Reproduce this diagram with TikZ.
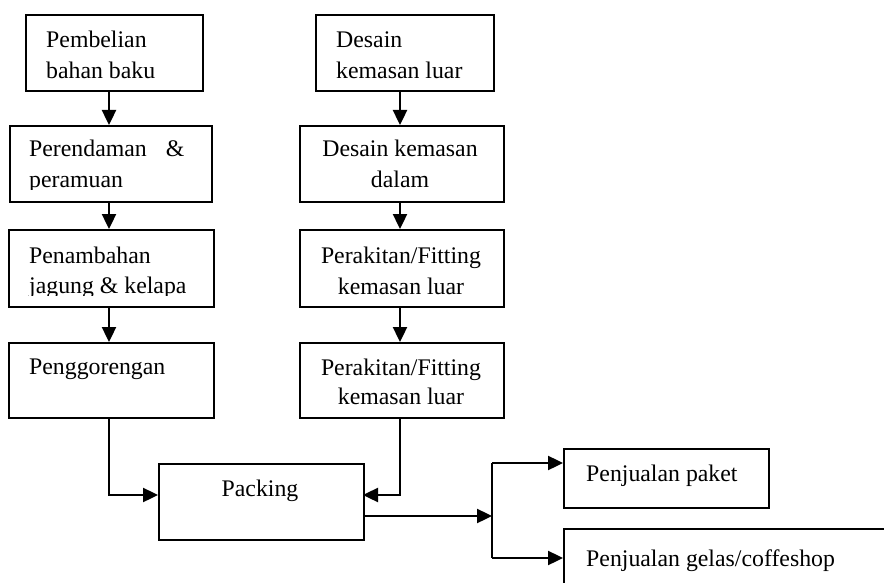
\documentclass[tikz,border=0pt]{standalone}
\usepackage{fontspec}
\setmainfont{Liberation Serif}
\usetikzlibrary{arrows.meta}
\tikzset{
  box/.style={draw=black, line width=1.7pt, inner sep=0pt},
  txt/.style={inner sep=0pt, font=\fontsize{23.8}{28}\selectfont},
  arr/.style={draw=black, line width=2.4pt, -{Triangle[length=15pt,width=14pt]}},
  ln/.style={draw=black, line width=2.4pt}
}
\newcommand{\boxat}[3]{}
\begin{document}
\begin{tikzpicture}[x=1pt,y=-1pt]
\clip (0,0) rectangle (884,583);
\fill[white] (0,0) rectangle (884,583);
% left column boxes
\node[box, anchor=north west, minimum width=177pt, minimum height=76pt] (L1) at (25,14) {};
\node[box, anchor=north west, minimum width=202pt, minimum height=76pt] (L2) at (9,125) {};
\node[box, anchor=north west, minimum width=205pt, minimum height=77pt] (L3) at (8,229) {};
\node[box, anchor=north west, minimum width=205pt, minimum height=75pt] (L4) at (8,342) {};
% right column boxes
\node[box, anchor=north west, minimum width=178pt, minimum height=76pt] (R1) at (315,14) {};
\node[box, anchor=north west, minimum width=204pt, minimum height=76pt] (R2) at (299,125) {};
\node[box, anchor=north west, minimum width=204pt, minimum height=77pt] (R3) at (299,229) {};
\node[box, anchor=north west, minimum width=204pt, minimum height=75pt] (R4) at (299,342) {};
% packing and sales
\node[box, anchor=north west, minimum width=205pt, minimum height=76pt] (P) at (158,463) {};
\node[box, anchor=north west, minimum width=205pt, minimum height=59pt] (S1) at (563,448) {};
\node[box, anchor=north west, minimum width=360pt, minimum height=100pt] (S2) at (563,528) {};

% texts
\node[txt, anchor=base west] (tL1a) at (46,48) {Pembelian};
\node[txt, anchor=base west] (tL1b) at (46,79) {bahan baku};
\node[txt, anchor=base west] (tL2a) at (29,157) {Perendaman\hspace{19pt}\&};
\begin{scope}
  \clip (0,160) rectangle (250,190);
  \node[txt, anchor=base west] (tL2b) at (29,188) {peramuan};
\end{scope}
\node[txt, anchor=base west] (tL3a) at (29,263) {Penambahan};
\begin{scope}
  \clip (0,266) rectangle (250,295);
  \node[txt, anchor=base west] (tL3b) at (29,293) {jagung \& kelapa};
\end{scope}
\node[txt, anchor=base west] (tL4) at (29,374) {Penggorengan};

\node[txt, anchor=base west] (tR1a) at (336,48) {Desain};
\node[txt, anchor=base west] (tR1b) at (336,79) {kemasan luar};
\node[txt, anchor=base] (tR2a) at (400,157) {Desain kemasan};
\node[txt, anchor=base] (tR2b) at (400,187) {dalam};
\node[txt, anchor=base] (tR3a) at (401,263) {Perakitan/Fitting};
\node[txt, anchor=base] (tR3b) at (401,294) {kemasan luar};
\node[txt, anchor=base] (tR4a) at (401,375) {Perakitan/Fitting};
\node[txt, anchor=base] (tR4b) at (401,404) {kemasan luar};

\node[txt, anchor=base] (tP) at (260,496) {Packing};
\node[txt, anchor=base west] (tS1) at (586,481) {Penjualan paket};
\node[txt, anchor=base west] (tS2) at (586,566) {Penjualan gelas/coffeshop};

% connectors
\coordinate (lx) at (109,0);
\coordinate (rx) at (400,0);
\coordinate (pinL) at (158,495);
\coordinate (pinR) at (363,495);
\coordinate (pout) at (363,516);
\coordinate (br) at (492,516);
\coordinate (b1) at (492,463);
\coordinate (b2) at (492,558);

\draw[arr] (L1.south -| lx) -- (L2.north -| lx);
\draw[arr] (L2.south -| lx) -- (L3.north -| lx);
\draw[arr] (L3.south -| lx) -- (L4.north -| lx);
\draw[arr] (R1.south -| rx) -- (R2.north -| rx);
\draw[arr] (R2.south -| rx) -- (R3.north -| rx);
\draw[arr] (R3.south -| rx) -- (R4.north -| rx);

\draw[arr] (L4.south -| lx) |- (pinL);
\draw[arr] (R4.south -| rx) |- (pinR);
\draw[arr] (pout) -- (br);
\draw[ln] (b1) -- (b2);
\draw[arr] (b1) -- (b1 -| S1.west);
\draw[arr] (b2) -- (b2 -| S2.west);
\end{tikzpicture}
\end{document}
